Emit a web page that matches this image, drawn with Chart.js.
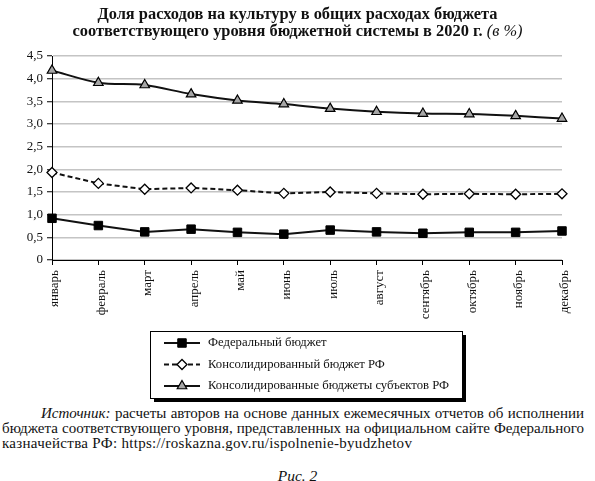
<!DOCTYPE html>
<html lang="ru">
<head>
<meta charset="UTF-8">
<title>Доля расходов на культуру</title>
<script src="https://cdn.jsdelivr.net/npm/chart.js"></script>
<style>
    body { margin: 0; background: #fff; font-family: "Liberation Serif", "DejaVu Serif", serif; color: #111; }
    #wrap { position: relative; width: 595px; height: 481px; overflow: hidden; }
    #chartBox { position: absolute; top: 0; left: 0; width: 595px; height: 405px; }
    #title { position: absolute; top: 5px; left: 0; width: 595px; text-align: center; font-weight: bold; font-size: 16.4px; line-height: 17px; }
    #title i { font-weight: normal; }
    #source { position: absolute; top: 406px; left: 2px; width: 582px; font-size: 15px; line-height: 15px; }
    #source div { white-space: nowrap; }
    #source .full { text-align: justify; text-align-last: justify; }
    #source .first { padding-left: 39px; }
    #source .last { letter-spacing: 0.3px; }
    #fig { position: absolute; top: 467px; left: 0; width: 595px; text-align: center; font-style: italic; font-size: 15.5px; }
</style>
</head>
<body>
<div id="wrap">
    <div id="chartBox"><canvas id="shareChart"></canvas></div>
    <div id="title">Доля расходов на культуру в общих расходах бюджета<br>соответствующего уровня бюджетной системы в 2020 г. <i>(в %)</i></div>
    <div id="source">
        <div class="full first"><i>Источник:</i> расчеты авторов на основе данных ежемесячных отчетов об исполнении</div>
        <div class="full">бюджета соответствующего уровня, представленных на официальном сайте Федерального</div>
        <div class="last">казначейства РФ: https://roskazna.gov.ru/ispolnenie-byudzhetov</div>
    </div>
    <div id="fig">Рис. 2</div>
</div>

<script>
    // months on the x axis
    const months = ['январь', 'февраль', 'март', 'апрель', 'май', 'июнь',
        'июль', 'август', 'сентябрь', 'октябрь', 'ноябрь', 'декабрь'];

    // shares, %
    const federal = [0.92, 0.76, 0.62, 0.68, 0.61, 0.57, 0.66, 0.62, 0.59, 0.61, 0.61, 0.64];
    const consolidated = [1.93, 1.69, 1.56, 1.59, 1.54, 1.47, 1.50, 1.47, 1.45, 1.46, 1.45, 1.46];
    const regional = [4.18, 3.91, 3.86, 3.66, 3.52, 3.44, 3.34, 3.27, 3.23, 3.22, 3.18, 3.12];

    const seriesNames = ['Федеральный бюджет', 'Консолидированный бюджет РФ', 'Консолидированные бюджеты субъектов РФ'];

    // y axis labels, bottom to top
    const yTickLabels = ['0', '0,5', '1,0', '1,5', '2,0', '2,5', '3,0', '3,5', '4,0', '4,5'];

    const serif = '"Liberation Serif", "DejaVu Serif", serif';
    const ink = '#111';

    // legend in a framed box with a drop shadow, one row per series
    const boxLegend = {
        id: 'boxLegend',
        afterDraw(chart) {
            const ctx = chart.ctx;
            const left = 150, top = 331, w = 312, h = 67;
            ctx.save();
            ctx.fillStyle = '#000';
            ctx.fillRect(left + 4, top + 4, w, h);
            ctx.fillStyle = '#fff';
            ctx.fillRect(left, top, w, h);
            ctx.strokeStyle = '#000';
            ctx.lineWidth = 1;
            ctx.strokeRect(left + 0.5, top + 0.5, w, h);

            chart.data.datasets.forEach((ds, i) => {
                const y = top + 12 + i * 21.5;
                ctx.strokeStyle = ds.borderColor;
                ctx.lineWidth = ds.borderWidth;
                ctx.setLineDash(ds.borderDash || []);
                ctx.beginPath();
                ctx.moveTo(left + 14, y);
                ctx.lineTo(left + 50, y);
                ctx.stroke();
                ctx.setLineDash([]);
                ctx.fillStyle = ds.pointBackgroundColor;
                ctx.strokeStyle = ds.pointBorderColor;
                ctx.lineWidth = ds.pointBorderWidth;
                Chart.helpers.drawPoint(ctx, {
                    pointStyle: ds.pointStyle, radius: ds.pointRadius,
                    rotation: 0, borderWidth: ds.pointBorderWidth
                }, left + 32, y);
                ctx.fillStyle = ink;
                ctx.font = '12.7px ' + serif;
                ctx.textBaseline = 'middle';
                ctx.textAlign = 'left';
                ctx.fillText(ds.label, left + 58, y);
            });
            ctx.restore();
        }
    };

    const ctx = document.getElementById('shareChart').getContext('2d');
    new Chart(ctx, {
        type: 'line',
        data: {
            labels: months,
            datasets: [
                {
                    label: seriesNames[0],
                    data: federal,
                    borderColor: ink,
                    borderWidth: 2,
                    tension: 0,
                    pointStyle: 'rect',
                    pointRadius: 6,
                    pointBackgroundColor: '#000',
                    pointBorderColor: '#000',
                    pointBorderWidth: 1
                },
                {
                    label: seriesNames[1],
                    data: consolidated,
                    borderColor: ink,
                    borderWidth: 2,
                    borderDash: [5, 3],
                    tension: 0,
                    pointStyle: 'rectRot',
                    pointRadius: 5,
                    pointBackgroundColor: '#fff',
                    pointBorderColor: '#000',
                    pointBorderWidth: 1.3
                },
                {
                    label: seriesNames[2],
                    data: regional,
                    borderColor: ink,
                    borderWidth: 2,
                    tension: 0.3,
                    pointStyle: 'triangle',
                    pointRadius: 5.5,
                    pointBackgroundColor: '#a6a6a6',
                    pointBorderColor: '#000',
                    pointBorderWidth: 1.2
                }
            ]
        },
        options: {
            responsive: true,
            maintainAspectRatio: false,
            animation: false,
            layout: { padding: { left: 5, right: 33, top: 56, bottom: 75 } },
            plugins: {
                legend: { display: false },
                tooltip: { enabled: false }
            },
            scales: {
                x: {
                    offset: false,
                    border: { color: '#000', width: 1 },
                    grid: { drawOnChartArea: false, drawTicks: true, tickLength: 5, tickColor: '#000', offset: false },
                    ticks: {
                        autoSkip: false, minRotation: 90, maxRotation: 90, padding: 5, labelOffset: 3,
                        color: ink, font: { family: serif, size: 13 }
                    },
                    afterFit: s => { s.height = 70; }
                },
                y: {
                    min: 0, max: 4.5,
                    border: { color: '#000', width: 1 },
                    grid: { color: '#c4c4c4', lineWidth: 1.5, tickColor: '#000', tickLength: 5, tickWidth: 1 },
                    ticks: {
                        stepSize: 0.5, padding: 4, color: ink, font: { family: serif, size: 13 },
                        callback: (v, i) => yTickLabels[i]
                    },
                    afterFit: s => { s.width = 47; }
                }
            }
        },
        plugins: [boxLegend]
    });
</script>
</body>
</html>
